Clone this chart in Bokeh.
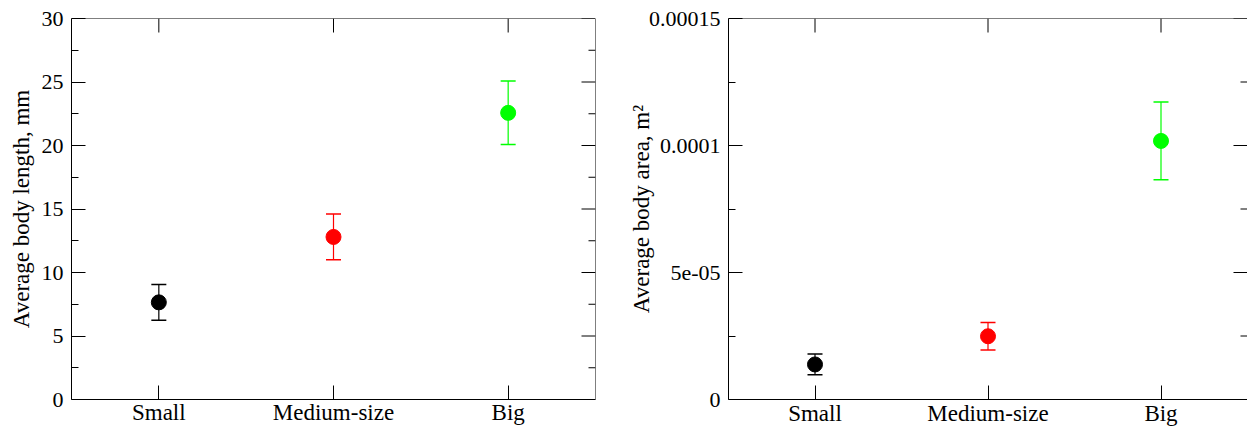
import math
from bokeh.plotting import figure
from bokeh.models import (Range1d, FactorRange, FixedTicker, Whisker, TeeHead,
                          ColumnDataSource, CustomJSTickFormatter)
from bokeh.layouts import row
from bokeh.embed import file_html
from bokeh.resources import INLINE

# Size classes and their colours
categories = ["Small", "Medium-size", "Big"]
colors = ["black", "red", "lime"]

# Average body length (mm) with error
length_mean = [7.65, 12.8, 22.57]
length_err = [1.4, 1.8, 2.5]

# Average body area (m^2) with error
area_mean = [1.38e-5, 2.49e-5, 1.018e-4]
area_err = [0.41e-5, 0.54e-5, 1.53e-5]

# Axis ticks
length_ticks = [0, 5, 10, 15, 20, 25, 30]
length_minor = [2.5, 7.5, 12.5, 17.5, 22.5, 27.5]
area_ticks = [0, 5e-5, 1e-4, 1.5e-4]
area_minor = [2.5e-5, 7.5e-5, 1.25e-4]
area_tick_labels = ["0", "5e-05", "0.0001", "0.00015"]

FONT = "Liberation Serif"


def make_panel(width, border_left, border_right, border_bottom, means, errs, ymax,
               ticks, minor, ylabel, label_standoff, cat_standoff, cat_line_height,
               formatter=None, show_right_line=True):
    p = figure(width=width, height=428,
               x_range=FactorRange(*categories, range_padding=0),
               y_range=Range1d(0, ymax),
               output_backend="svg", toolbar_location=None,
               min_border_left=border_left, min_border_right=border_right,
               min_border_top=18, min_border_bottom=border_bottom)
    p.outline_line_color = None
    p.xgrid.visible = False
    p.ygrid.visible = False
    p.background_fill_color = "white"
    p.border_fill_color = "white"

    # category axis at the bottom
    xa = p.xaxis[0]
    xa.major_tick_in = 14
    xa.major_tick_out = 0
    xa.major_label_standoff = cat_standoff
    xa.major_label_text_font = FONT
    xa.major_label_text_font_size = "23px"
    xa.major_label_text_line_height = cat_line_height
    xa.major_label_text_color = "black"
    xa.axis_line_color = "black"

    # value axis on the left
    ya = p.yaxis[0]
    ya.ticker = FixedTicker(ticks=ticks, minor_ticks=minor)
    if formatter is not None:
        ya.formatter = formatter
    ya.major_tick_in = 14
    ya.major_tick_out = 0
    ya.minor_tick_in = 7
    ya.minor_tick_out = 0
    ya.major_label_standoff = 8
    ya.major_label_text_font = FONT
    ya.major_label_text_font_size = "22px"
    ya.major_label_text_color = "black"
    ya.axis_label = ylabel
    ya.axis_label_text_font = FONT
    ya.axis_label_text_font_size = "23px"
    ya.axis_label_text_font_style = "normal"
    ya.axis_label_text_color = "black"
    ya.axis_label_standoff = label_standoff
    ya.axis_line_color = "black"

    # frame lines on top and right
    right_edge = (categories[-1], 0.5)
    left_edge = (categories[0], -0.5)
    p.segment(x0=[left_edge], y0=[ymax], x1=[right_edge], y1=[ymax],
              line_color="black", line_width=1)
    if show_right_line:
        p.segment(x0=[right_edge], y0=[0], x1=[right_edge], y1=[ymax],
                  line_color="black", line_width=1)

    # mirrored ticks on top and right, pointing into the frame
    p.ray(x=categories, y=[ymax] * len(categories), length=14, length_units="screen",
          angle=-math.pi / 2, line_color="black", line_width=1)
    p.ray(x=[right_edge] * len(ticks), y=ticks, length=14, length_units="screen",
          angle=math.pi, line_color="black", line_width=1)
    p.ray(x=[right_edge] * len(minor), y=minor, length=7, length_units="screen",
          angle=math.pi, line_color="black", line_width=1)

    src = ColumnDataSource(dict(
        cat=categories,
        mean=means,
        lower=[m - e for m, e in zip(means, errs)],
        upper=[m + e for m, e in zip(means, errs)],
        color=colors,
    ))
    w = Whisker(source=src, base="cat", lower="lower", upper="upper",
                line_color={"field": "color"}, line_width=1.2,
                lower_head=TeeHead(size=15, line_color={"field": "color"}, line_width=1.5),
                upper_head=TeeHead(size=15, line_color={"field": "color"}, line_width=1.5))
    p.add_layout(w)
    p.scatter(x="cat", y="mean", source=src, size=15, fill_color="color",
              line_color="color")
    return p


left = make_panel(600, 71, 5, 24, length_mean, length_err, 30,
                  length_ticks, length_minor, "Average body length, mm", 5, 0, 0.85)

area_fmt = CustomJSTickFormatter(args=dict(vals=area_ticks, labs=area_tick_labels), code="""
for (let i = 0; i < vals.length; i++) {
    if (Math.abs(tick - vals[i]) < 1e-9) { return labs[i]; }
}
return "";
""")
right_panel = make_panel(647, 128, 0, 28, area_mean, area_err, 1.5e-4,
                         area_ticks, area_minor, "Average body area, m\u00b2", -8, 1, 1.2,
                         formatter=area_fmt, show_right_line=False)

layout = row(left, right_panel, spacing=0)
open("out.html", "w").write(file_html(layout, INLINE))
